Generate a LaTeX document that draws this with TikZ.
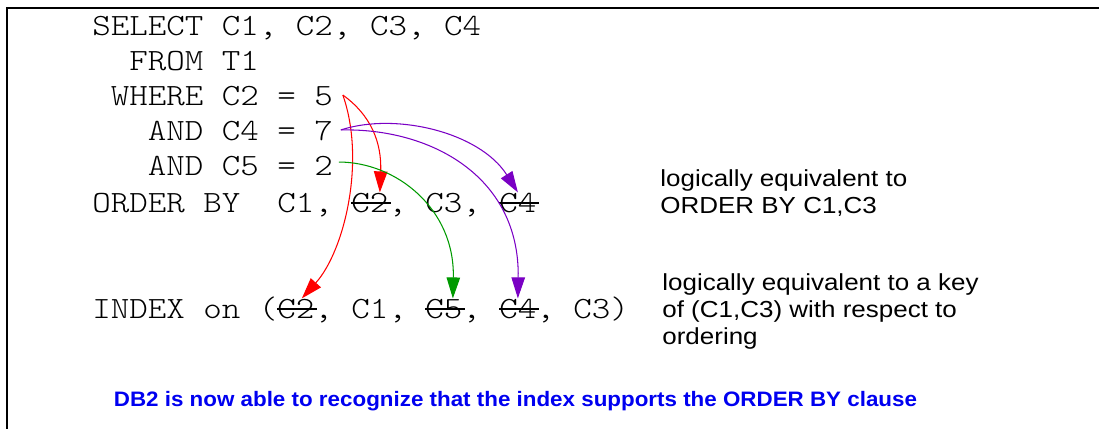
\documentclass[tikz,border=0pt]{standalone}
\usepackage{fontspec}
\setmainfont{Liberation Sans}
\newfontfamily\codefont[FakeStretch=1.14]{lmmonolt10-regular.otf}
\newfontfamily\notefont[FakeStretch=1.12]{Liberation Sans}
\newfontfamily\msgfont[FakeStretch=1.07]{Liberation Sans}
\usepackage{tikz}
\usetikzlibrary{arrows.meta}
\definecolor{ptred}{HTML}{FF0000}
\definecolor{ptpurple}{HTML}{7A00C4}
\definecolor{ptgreen}{HTML}{009A00}
\definecolor{msgblue}{HTML}{0000F0}
\tikzset{
  code/.style={anchor=base west, inner sep=0pt,
               font=\codefont\fontsize{17.6}{21}\selectfont},
  note/.style={anchor=north west, inner sep=0pt, align=left,
               font=\notefont\fontsize{13.2}{15.4}\selectfont},
  msg/.style={anchor=base west, inner sep=0pt, text=msgblue,
              font=\msgfont\fontsize{11.9}{14}\selectfont\bfseries},
  strk/.style={draw=black, line width=1.1pt},
  pt/.style={-{Triangle[length=4.2mm,width=2.7mm]}, line width=0.6pt, draw=#1},
  frame/.style={draw=black, line width=1.1pt},
}

\begin{document}
\begin{tikzpicture}
  \useasboundingbox (0,0) rectangle (21.98,-8.58);
  \draw[frame] (0.14,-8.58) -- (0.14,-0.16) -- (21.98,-0.16);

  % query
  \node[code] (sel) at (1.84,-0.72) {SELECT C1, C2, C3, C4};
  \node[code] (frm) at (2.58,-1.42) {FROM T1};
  \node[code] (whr) at (2.21,-2.12) {WHERE C2 = 5};
  \node[code] (and4) at (2.95,-2.82) {AND C4 = 7};
  \node[code] (and5) at (2.95,-3.52) {AND C5 = 2};
  \node[code] (ord) at (1.84,-4.24) {ORDER BY\ \ C1,};
  \node[code] (oc2) at (7.02,-4.24) {C2};
  \node[code] (oc3) at (7.76,-4.24) {, C3,};
  \node[code] (oc4) at (9.98,-4.24) {C4};

  % index
  \node[code] (idx) at (1.84,-6.36) {INDEX on (};
  \node[code] (ic2) at (5.54,-6.36) {C2};
  \node[code] (ic1) at (6.28,-6.36) {, C1,};
  \node[code] (ic5) at (8.50,-6.36) {C5};
  \node[code] (icm) at (9.24,-6.36) {,};
  \node[code] (ic4) at (9.98,-6.36) {C4};
  \node[code] (ic3) at (10.72,-6.36) {, C3)};

  % struck columns
  \draw[strk] (oc2.west) -- ([xshift=0.4mm]oc2.east);
  \draw[strk] (oc4.west) -- ([xshift=0.4mm]oc4.east);
  \draw[strk] (ic2.west) -- ([xshift=0.4mm]ic2.east);
  \draw[strk] (ic5.west) -- ([xshift=0.4mm]ic5.east);
  \draw[strk] (ic4.west) -- ([xshift=0.4mm]ic4.east);

  % predicates
  \coordinate (s5) at ([xshift=1.9mm,yshift=0.3mm]whr.east);
  \coordinate (s7) at ([xshift=1.5mm,yshift=0.3mm]and4.east);
  \coordinate (s2) at ([xshift=1.1mm,yshift=0.9mm]and5.east);
  \draw[pt=ptred] (s5) .. controls +(0.56,-0.40) and +(0.04,1.0) .. ([xshift=2mm]oc2.north);
  \draw[pt=ptred] (s5) .. controls +(0.46,-1.30) and +(0.86,0.96) .. ([xshift=1.2mm]ic2.north);
  \draw[pt=ptpurple] (s7) .. controls +(1.10,0.36) and +(-0.76,1.20) .. (oc4.north);
  \draw[pt=ptpurple] (s7) .. controls +(1.80,0.04) and +(0.04,2.44) .. (ic4.north);
  \draw[pt=ptgreen] (s2) .. controls +(1.14,0) and +(0.04,1.80) .. ([xshift=1.8mm]ic5.north);

  % notes
  \node[note] (n1) at (13.20,-3.39) {logically equivalent to\\ORDER BY C1,C3};
  \node[note] (n2) at (13.24,-5.47) {logically equivalent to a key\\of (C1,C3) with respect to\\ordering};
  \node[msg] (msg) at (2.27,-8.13) {DB2 is now able to recognize that the index supports the ORDER BY clause};
\end{tikzpicture}
\end{document}
